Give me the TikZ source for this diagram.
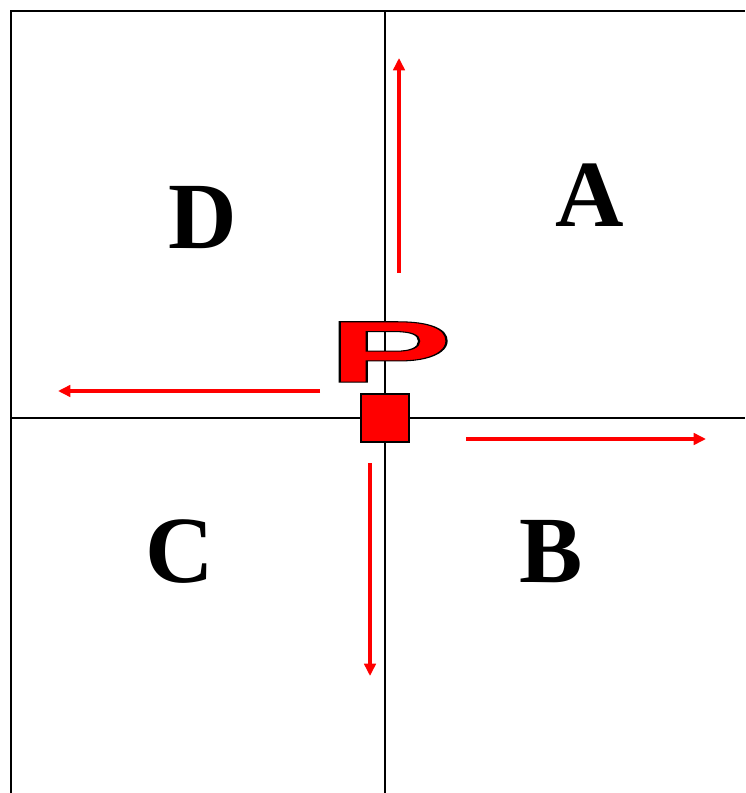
\documentclass[tikz,border=0pt]{standalone}
\usepackage{fontspec}
\setmainfont{Liberation Serif}
\newfontfamily\psans{Liberation Sans}
\usetikzlibrary{arrows.meta}
% outlined text: fill and stroke
\newcommand{\outlinedP}{\special{pdf:literal direct 2 Tr 0.6 w 0 0 0 RG}P\special{pdf:literal direct 0 Tr}}
\begin{document}
\begin{tikzpicture}[x=0.02cm,y=-0.02cm,
  quad/.style={font=\fontsize{54}{54}\selectfont\bfseries},
  move/.style={red,line width=2pt,-{Triangle[length=7pt,width=6.5pt]}}]
\useasboundingbox (0,0) rectangle (745,793);
% frame and axes
\draw[line width=1.1pt] (11,793) -- (11,11) -- (745,11);
\draw[line width=1.1pt] (385,11) -- (385,793);
\draw[line width=1.1pt] (11,418) -- (745,418);
% quadrant labels
\node[quad] (labA) at (590,195) {A};
\node[quad] (labB) at (551,552) {B};
\node[quad] (labC) at (180,552) {C};
\node[quad] (labD) at (203,218) {D};
% point P
\node[draw=black,line width=0.8pt,fill=red,minimum size=0.96cm,inner sep=0pt] (pt) at (385,418) {};
\node[red,font=\psans\fontsize{50}{50}\selectfont\bfseries,xscale=2.15,inner sep=0pt] (lblP) at (390,352) {\outlinedP};
% directions
\foreach \n/\x/\y in {up0/399/273,up1/399/58,lf0/320/391,lf1/58/391,rt0/466/439,rt1/706/439,dn0/370/463,dn1/370/676}
  \coordinate (\n) at (\x,\y);
\foreach \a/\b in {up0/up1,lf0/lf1,rt0/rt1,dn0/dn1}
  \draw[move] (\a) -- (\b);
\end{tikzpicture}
\end{document}
